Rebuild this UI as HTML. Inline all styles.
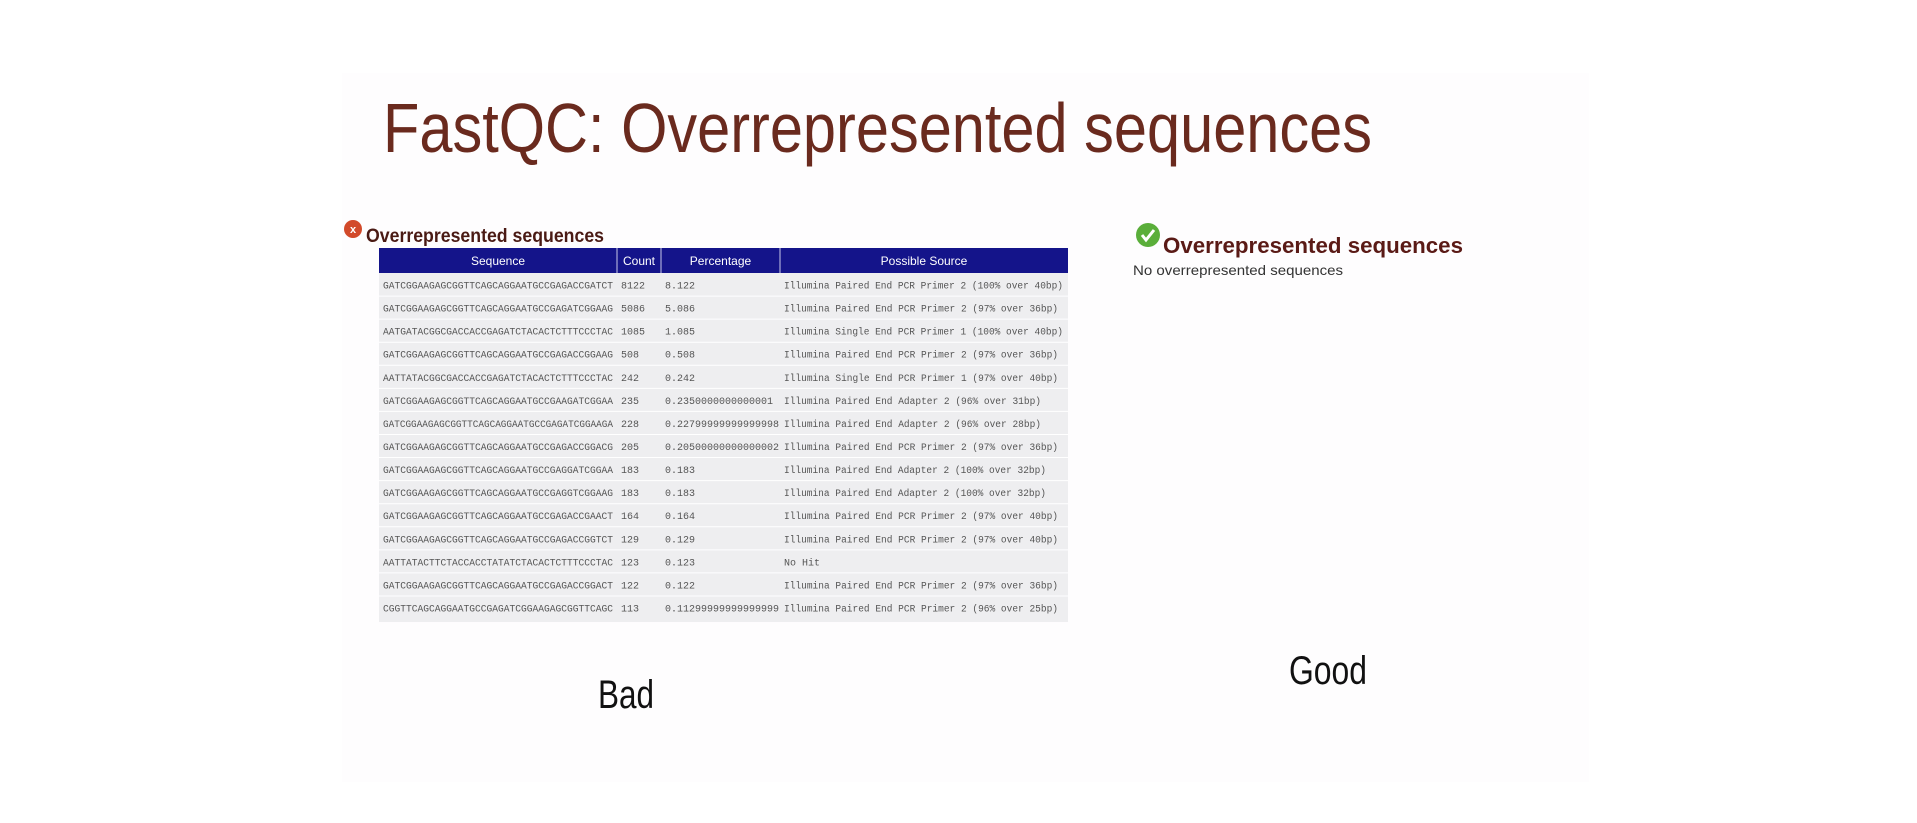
<!DOCTYPE html>
<html><head><meta charset="utf-8"><style>
html,body{margin:0;padding:0;background:#fff;}
svg{display:block;}
</style></head><body>
<svg id="s" width="1917" height="823" viewBox="0 0 1917 823" xmlns="http://www.w3.org/2000/svg">
<rect x="0" y="0" width="1917" height="823" fill="#ffffff"/>
<rect x="342" y="73" width="1247" height="709" fill="#fefdfe"/>
<text x="383" y="152" font-family="Liberation Sans, sans-serif" font-size="70" fill="#6a2a1e" textLength="989" lengthAdjust="spacingAndGlyphs">FastQC: Overrepresented sequences</text>

<g>
<circle cx="353" cy="229" r="9" fill="#d24a2a"/>
<text x="353" y="233" font-family="Liberation Sans, sans-serif" font-size="11" font-weight="bold" fill="#fff" text-anchor="middle">x</text>
<text x="366" y="242" font-family="Liberation Sans, sans-serif" font-size="19" font-weight="bold" fill="#4a1a14" textLength="238" lengthAdjust="spacingAndGlyphs">Overrepresented sequences</text>
<g id="tbl"></g>
</g>

<g>
<circle cx="1148" cy="235" r="12" fill="#5aae3a"/>
<path d="M1142 235 l4 5 l8 -10" stroke="#fff" stroke-width="3" fill="none"/>
<text x="1163" y="253" font-family="Liberation Sans, sans-serif" font-size="22" font-weight="bold" fill="#5a1a16" textLength="300" lengthAdjust="spacingAndGlyphs">Overrepresented sequences</text>
<text x="1133" y="275" font-family="Liberation Sans, sans-serif" font-size="14" fill="#333" textLength="210" lengthAdjust="spacingAndGlyphs">No overrepresented sequences</text>
</g>

<text x="598" y="708" font-family="Liberation Sans, sans-serif" font-size="40" fill="#111" textLength="56" lengthAdjust="spacingAndGlyphs">Bad</text>
<text x="1289" y="684" font-family="Liberation Sans, sans-serif" font-size="40" fill="#111" textLength="78" lengthAdjust="spacingAndGlyphs">Good</text>
</svg>
<script>
const headers = ["Sequence","Count","Percentage","Possible Source"];
const sequences = ["GATCGGAAGAGCGGTTCAGCAGGAATGCCGAGACCGATCT","GATCGGAAGAGCGGTTCAGCAGGAATGCCGAGATCGGAAG","AATGATACGGCGACCACCGAGATCTACACTCTTTCCCTAC","GATCGGAAGAGCGGTTCAGCAGGAATGCCGAGACCGGAAG","AATTATACGGCGACCACCGAGATCTACACTCTTTCCCTAC","GATCGGAAGAGCGGTTCAGCAGGAATGCCGAAGATCGGAA","GATCGGAAGAGCGGTTCAGCAGGAATGCCGAGATCGGAAGA","GATCGGAAGAGCGGTTCAGCAGGAATGCCGAGACCGGACG","GATCGGAAGAGCGGTTCAGCAGGAATGCCGAGGATCGGAA","GATCGGAAGAGCGGTTCAGCAGGAATGCCGAGGTCGGAAG","GATCGGAAGAGCGGTTCAGCAGGAATGCCGAGACCGAACT","GATCGGAAGAGCGGTTCAGCAGGAATGCCGAGACCGGTCT","AATTATACTTCTACCACCTATATCTACACTCTTTCCCTAC","GATCGGAAGAGCGGTTCAGCAGGAATGCCGAGACCGGACT","CGGTTCAGCAGGAATGCCGAGATCGGAAGAGCGGTTCAGC"];
const counts = ["8122","5086","1085","508","242","235","228","205","183","183","164","129","123","122","113"];
const percents = ["8.122","5.086","1.085","0.508","0.242","0.2350000000000001","0.22799999999999998","0.20500000000000002","0.183","0.183","0.164","0.129","0.123","0.122","0.11299999999999999"];
const sources = ["Illumina Paired End PCR Primer 2 (100% over 40bp)","Illumina Paired End PCR Primer 2 (97% over 36bp)","Illumina Single End PCR Primer 1 (100% over 40bp)","Illumina Paired End PCR Primer 2 (97% over 36bp)","Illumina Single End PCR Primer 1 (97% over 40bp)","Illumina Paired End Adapter 2 (96% over 31bp)","Illumina Paired End Adapter 2 (96% over 28bp)","Illumina Paired End PCR Primer 2 (97% over 36bp)","Illumina Paired End Adapter 2 (100% over 32bp)","Illumina Paired End Adapter 2 (100% over 32bp)","Illumina Paired End PCR Primer 2 (97% over 40bp)","Illumina Paired End PCR Primer 2 (97% over 40bp)","No Hit","Illumina Paired End PCR Primer 2 (97% over 36bp)","Illumina Paired End PCR Primer 2 (96% over 25bp)"];

const NS="http://www.w3.org/2000/svg";
const g=document.getElementById('tbl');
const colX=[379,617,661,780,1068];
const top0=248, headH=25, rowH=23.07;
function mk(tag,attrs){const e=document.createElementNS(NS,tag);for(const k in attrs)e.setAttribute(k,attrs[k]);g.appendChild(e);return e;}
const hb=mk('rect',{x:379,y:top0,width:689,height:headH,fill:'#14148a'});


const body=mk('rect',{x:379,y:top0+headH,width:689,height:rowH*sequences.length+3,fill:'#eeeef0'});


for(let c=1;c<4;c++){
  const l=mk('line',{x1:colX[c],x2:colX[c],y1:top0,y2:top0+headH,stroke:'#c8c8e8','stroke-width':1});
  
  
}
headers.forEach((h,c)=>{
  const t=mk('text',{x:(colX[c]+colX[c+1])/2,y:top0+17,'font-family':'Liberation Sans, sans-serif','font-size':12,'fill':'#fff','text-anchor':'middle'});
  t.textContent=h;
  
  
});
for(let i=0;i<sequences.length;i++){
  const y=top0+headH+rowH*i;
  if(i>0){const s=mk('line',{x1:379,x2:1068,y1:y,y2:y,stroke:'#ffffff','stroke-width':1});
    
    }
  const cells=[sequences[i],counts[i],percents[i],sources[i]];
  cells.forEach((v,c)=>{
    const t=mk('text',{x:colX[c]+4,y:y+rowH/2+4,'font-family':'Liberation Mono, monospace','font-size':10,'fill':'#555'});
    if(c===0) {t.setAttribute('textLength',230);t.setAttribute('lengthAdjust','spacingAndGlyphs');}
    if(c===3 && v.length>20){t.setAttribute('textLength',Math.min(280,Math.round(v.length*5.7)));t.setAttribute('lengthAdjust','spacingAndGlyphs');}
    t.textContent=v;
    
    
  });
}
</script>
</body></html>
